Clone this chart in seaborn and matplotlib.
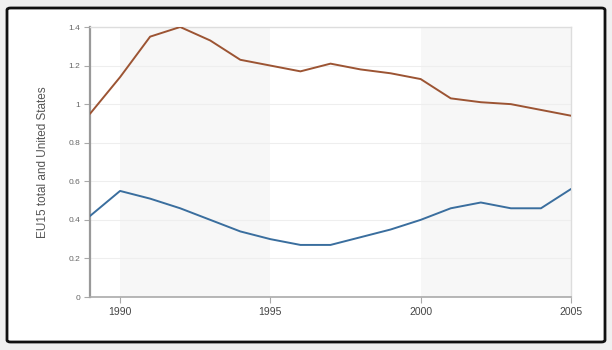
import matplotlib
matplotlib.use("Agg")
import matplotlib.pyplot as plt
from matplotlib.patches import FancyBboxPatch
import seaborn as sns
import pandas as pd

years = list(range(1989, 2006))
eu15 = [0.95, 1.14, 1.35, 1.40, 1.33, 1.23, 1.20, 1.17, 1.21, 1.18, 1.16, 1.13, 1.03, 1.01, 1.00, 0.97, 0.94]
usa = [0.42, 0.55, 0.51, 0.46, 0.40, 0.34, 0.30, 0.27, 0.27, 0.31, 0.35, 0.40, 0.46, 0.49, 0.46, 0.46, 0.56]
yticks = [0, 0.2, 0.4, 0.6, 0.8, 1, 1.2, 1.4]
ytick_labels = ["0", "0.2", "0.4", "0.6", "0.8", "1", "1.2", "1.4"]
xticks = [1990, 1995, 2000, 2005]
bands = [(1990, 1995), (2000, 2005)]

sns.set_theme(style="white")
plt.rcParams['font.family'] = ['Liberation Sans', 'DejaVu Sans']

fig = plt.figure(figsize=(6.12, 3.5), dpi=100, facecolor="#f0f0f0")
frame = FancyBboxPatch((7 / 612, 8 / 350), 598 / 612, 334 / 350,
                       boxstyle="round,pad=0,rounding_size=0.006",
                       transform=fig.transFigure, facecolor="white",
                       edgecolor="#111111", linewidth=2, zorder=-5)
fig.patches.append(frame)

ax = fig.add_axes([90 / 612, 1 - 297 / 350, (571 - 90) / 612, (297 - 27) / 350])
ax.set_zorder(2)
ax.set_facecolor("white")

for a, b in bands:
    ax.axvspan(a, b, color="#f7f7f7", zorder=0, lw=0)
for y in yticks[1:]:
    ax.axhline(y, color="#eeeeee", lw=0.8, zorder=1)

df = pd.DataFrame({"year": years * 2,
                   "value": eu15 + usa,
                   "series": ["EU15"] * len(years) + ["United States"] * len(years)})
sns.lineplot(data=df, x="year", y="value", hue="series",
             palette={"EU15": "#9c5433", "United States": "#3a6e9e"},
             linewidth=1.4, legend=False, ax=ax, zorder=3)

ax.set_xlim(1989, 2005)
ax.set_ylim(0, 1.4)
ax.set_xticks(xticks)
ax.set_xticklabels([str(x) for x in xticks], fontsize=7.5, color="#444444")
ax.set_yticks(yticks)
ax.set_yticklabels(ytick_labels, fontsize=6, color="#666666")
ax.tick_params(axis="x", length=4, width=0.8, color="#aaaaaa", pad=3, bottom=True)
ax.tick_params(axis="y", length=4, width=0.8, color="#aaaaaa", pad=3, left=True)
ax.set_xlabel("")
ax.set_ylabel("EU15 total and United States", fontsize=8.5, color="#555555", labelpad=14)

for side in ["top", "right"]:
    ax.spines[side].set_color("#dddddd")
    ax.spines[side].set_linewidth(1.0)
ax.spines["left"].set_color("#999999")
ax.spines["left"].set_linewidth(1.6)
ax.spines["bottom"].set_color("#aaaaaa")
ax.spines["bottom"].set_linewidth(1.2)

fig.savefig("out.png", dpi=100, facecolor=fig.get_facecolor())
